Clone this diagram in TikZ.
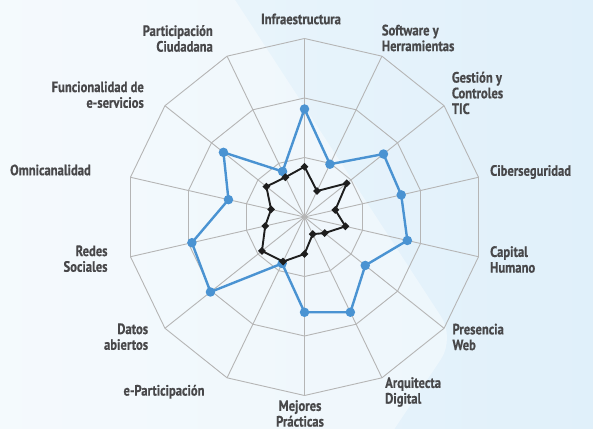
\documentclass[tikz,border=0pt]{standalone}
\usepackage{fontspec}
\newfontfamily\lblfont{PT Sans Bold}[FakeStretch=0.84, FakeBold=0.6]
\usetikzlibrary{shapes.geometric}
\definecolor{txt}{HTML}{48484A}
\definecolor{gridc}{HTML}{B5B5B5}
\definecolor{bl}{HTML}{4A93D2}
\definecolor{bk}{HTML}{1E1E1E}
\definecolor{bgc}{HTML}{E0F0FA}
\begin{document}
\begin{tikzpicture}[x=1pt,y=1pt,
  lbl/.style={font=\lblfont\fontsize{15}{15.7}\selectfont, text=txt, inner sep=0pt},
  gridline/.style={draw=gridc, line width=0.9pt},
  blueline/.style={draw=bl, line width=2.4pt, line join=round},
  blackline/.style={draw=bk, line width=1.9pt, line join=round},
  bdot/.style={circle, fill=bl, inner sep=0pt, minimum size=9.5pt},
  kdot/.style={diamond, fill=bk, inner sep=0pt, minimum size=8pt}]
\useasboundingbox (0,0) rectangle (593,428);
\begin{scope}
\clip (0,0) rectangle (593,428);
\shade[left color=bgc!55!white, right color=bgc] (0,0) rectangle (593,428);
\fill[white, opacity=0.4, rounded corners=25pt] (-50,478) -- (202.5,478) -- (455,90) -- (361.7,-50) -- (-50,-50) -- cycle;
\end{scope}
\begin{scope}[shift={(304.5,211)}]
  \foreach \i in {0,...,13} \draw[gridline] (0,0) -- ({90-\i*360/14}:178.5);
  \foreach \r in {59.5,119,178.5}
    \draw[gridline] (90:\r) \foreach \i in {1,...,13}{ -- ({90-\i*360/14}:\r)} -- cycle;
  \foreach \r [count=\i from 0] in {108,58.6,101,99.2,105.5,77.7,105.7,95.3,51.6,120.3,115.5,78,103.7,50.5}
    \coordinate (b\i) at ({90-\i*360/14}:\r);
  \foreach \r [count=\i from 0] in {50.3,28.8,54,31.6,42,25.8,19,37,49.5,54.4,40.3,34.3,48.8,44.1}
    \coordinate (k\i) at ({90-\i*360/14}:\r);
  \draw[blueline] (b0) \foreach \i in {1,...,13}{ -- (b\i)} -- cycle;
  \foreach \i in {0,...,13} \node[bdot] (bd\i) at (b\i) {};
  \draw[blackline] (k0) \foreach \i in {1,...,13}{ -- (k\i)} -- cycle;
  \foreach \i in {0,...,13} \node[kdot] (kd\i) at (k\i) {};
\end{scope}
\node[lbl] (l0) at (301,409) {Infraestructura};
\node[lbl, anchor=west, align=left] (l1) at (381.7,390) {Software y\\Herramientas};
\node[lbl, anchor=west, align=left] (l2) at (451.7,335) {Gestión y\\Controles\\TIC};
\node[lbl, anchor=west] (l3) at (490,256) {Ciberseguridad};
\node[lbl, anchor=west, align=left] (l4) at (490,168.5) {Capital\\Humano};
\node[lbl, anchor=west, align=left] (l5) at (452.3,91) {Presencia\\Web};
\node[lbl, anchor=west, align=left] (l6) at (385,36) {Arquitecta\\Digital};
\node[lbl, align=center] (l7) at (300,14.5) {Mejores\\Prácticas};
\node[lbl] (l8) at (164,36.3) {e-Participación};
\node[lbl, anchor=east, align=right] (l9) at (148.3,91.3) {Datos\\abiertos};
\node[lbl, anchor=east, align=right] (l10) at (107.7,169.3) {Redes\\Sociales};
\node[lbl, anchor=west] (l11) at (10,258) {Omnicanalidad};
\node[lbl, anchor=east, align=right] (l12) at (144,333.3) {Funcionalidad de\\e-servicios};
\node[lbl, anchor=east, align=right] (l13) at (213,389.5) {Participación\\Ciudadana};
\end{tikzpicture}
\end{document}
